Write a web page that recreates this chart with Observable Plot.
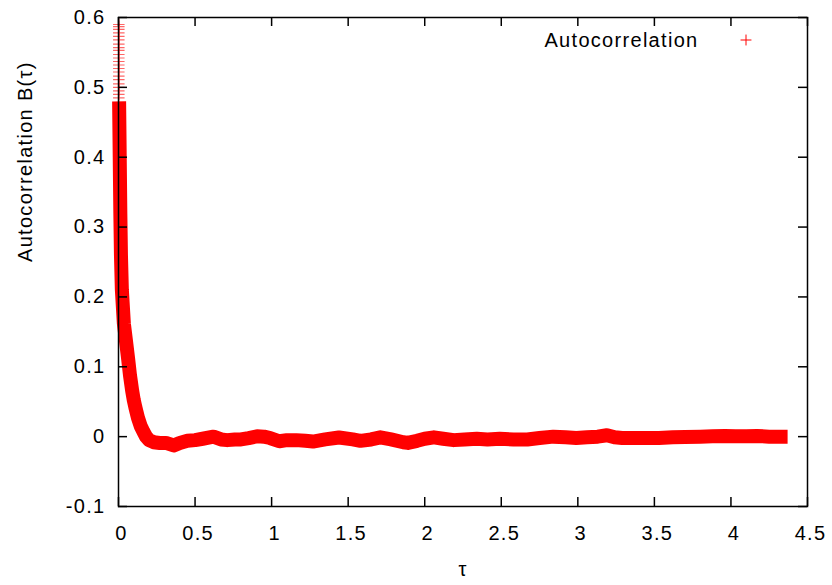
<!DOCTYPE html>
<html><head><meta charset="utf-8">
<script src="https://cdn.jsdelivr.net/npm/d3@7"></script>
<script src="https://cdn.jsdelivr.net/npm/@observablehq/plot@0.6"></script>
<style>body{margin:0;background:#fff}</style>
</head><body><div id="chart"></div>
<script>
// Data
const tau = [0.004, 0.008, 0.012, 0.016, 0.022, 0.035, 0.05, 0.062, 0.075, 0.089, 0.1, 0.11, 0.127, 0.145, 0.163, 0.18, 0.2, 0.23, 0.27, 0.31, 0.36, 0.4, 0.45, 0.5, 0.55, 0.62, 0.67, 0.71, 0.76, 0.8, 0.85, 0.905, 0.95, 0.99, 1.05, 1.1, 1.16, 1.22, 1.27, 1.35, 1.44, 1.53, 1.58, 1.65, 1.71, 1.78, 1.86, 1.89, 1.95, 2.0, 2.06, 2.12, 2.19, 2.26, 2.34, 2.41, 2.49, 2.58, 2.67, 2.75, 2.84, 2.92, 2.99, 3.06, 3.13, 3.19, 3.24, 3.29, 3.37, 3.45, 3.53, 3.62, 3.7, 3.8, 3.88, 3.96, 4.03, 4.1, 4.17, 4.25, 4.32, 4.37];
const B = [0.48, 0.40, 0.32, 0.26, 0.21, 0.162, 0.135, 0.113, 0.088, 0.066, 0.052, 0.042, 0.027, 0.015, 0.007, 0.0, -0.005, -0.008, -0.009, -0.009, -0.0126, -0.009, -0.006, -0.005, -0.003, 0.0, -0.004, -0.005, -0.004, -0.004, -0.002, 0.0005, 0.0, -0.002, -0.0066, -0.005, -0.005, -0.006, -0.007, -0.004, -0.0012, -0.004, -0.006, -0.004, -0.001, -0.004, -0.008, -0.009, -0.006, -0.003, -0.001, -0.003, -0.005, -0.004, -0.003, -0.004, -0.003, -0.004, -0.004, -0.002, 0.0, -0.001, -0.002, -0.001, 0.0, 0.002, -0.001, -0.002, -0.002, -0.002, -0.002, -0.001, -0.0005, 0.0, 0.0005, 0.001, 0.0005, 0.0005, 0.001, 0.0, 0.0, 0.0];
// sparse points at the very top of the spike near tau = 0
const spikeTau = [0.002, 0.002, 0.002, 0.002, 0.002, 0.002, 0.002, 0.002, 0.002, 0.002, 0.002, 0.002, 0.002, 0.002, 0.002, 0.002, 0.002, 0.002, 0.002, 0.002, 0.002, 0.002];
const spikeB = [0.59, 0.587, 0.583, 0.578, 0.573, 0.568, 0.562, 0.557, 0.553, 0.547, 0.542, 0.537, 0.532, 0.527, 0.522, 0.516, 0.511, 0.505, 0.5, 0.495, 0.49, 0.485];
const xTicks = [0, 0.5, 1, 1.5, 2, 2.5, 3, 3.5, 4, 4.5];
const yTicks = [-0.1, 0, 0.1, 0.2, 0.3, 0.4, 0.5, 0.6];
const seriesLabel = "Autocorrelation";
const xLabel = "τ";
const yLabel = "Autocorrelation B(τ)";

const data = tau.map((t, i) => ({tau: t, B: B[i]}));
const spike = spikeB.map((b, i) => ({tau: spikeTau[i], B: b}));

const W = 832, H = 585, mL = 118, mR = 25, mT = 17, mB = 79;
const pw = W - mL - mR, ph = H - mT - mB;
const red = "#ff0000";
const font = "'Liberation Sans', Arial, sans-serif";
const tick = 9;

const chart = Plot.plot({
  width: W, height: H,
  marginLeft: mL, marginRight: mR, marginTop: mT, marginBottom: mB,
  style: {fontFamily: font, fontSize: "20px", letterSpacing: "1.3px", background: "#fff", color: "#000"},
  x: {domain: [0, 4.5]},
  y: {domain: [-0.1, 0.6]},
  marks: [
    Plot.line(data, {x: "tau", y: "B", stroke: red, strokeWidth: 14, strokeLinecap: "butt", strokeLinejoin: "round"}),
    Plot.dot(spike, {x: "tau", y: "B", symbol: "plus", r: 3.8, stroke: red, strokeWidth: 1.2, strokeOpacity: 0.6}),
    Plot.frame({stroke: "#000", strokeWidth: 1.5}),
    Plot.tickX(xTicks, {x: d => d, insetTop: ph - tick, stroke: "#000", strokeWidth: 1.5}),
    Plot.tickX(xTicks, {x: d => d, insetBottom: ph - tick, stroke: "#000", strokeWidth: 1.5}),
    Plot.tickY(yTicks, {y: d => d, insetRight: pw - tick, stroke: "#000", strokeWidth: 1.5}),
    Plot.tickY(yTicks, {y: d => d, insetLeft: pw - tick, stroke: "#000", strokeWidth: 1.5}),
    Plot.axisX(xTicks, {tickSize: 0, tickPadding: 19, tickFormat: d => String(d), label: null, dx: 3, fontSize: 20}),
    Plot.axisY(yTicks, {tickSize: 0, tickPadding: 13, tickFormat: d => String(d), label: null, fontSize: 20}),
    Plot.text([xLabel], {frameAnchor: "bottom", lineAnchor: "bottom", dy: 69, fontSize: 20, text: d => d}),
    Plot.text([yLabel], {frameAnchor: "left", lineAnchor: "middle", dx: -93, rotate: -90, fontSize: 20, text: d => d}),
    Plot.text([seriesLabel], {frameAnchor: "top-right", lineAnchor: "middle", dx: -109, dy: 23, textAnchor: "end", fontSize: 20, text: d => d}),
    Plot.dot([seriesLabel], {frameAnchor: "top-right", dx: -61.5, dy: 22.5, symbol: "plus", r: 3.6, stroke: red, strokeWidth: 1})
  ]
});
document.getElementById("chart").appendChild(chart);
</script>
</body></html>
